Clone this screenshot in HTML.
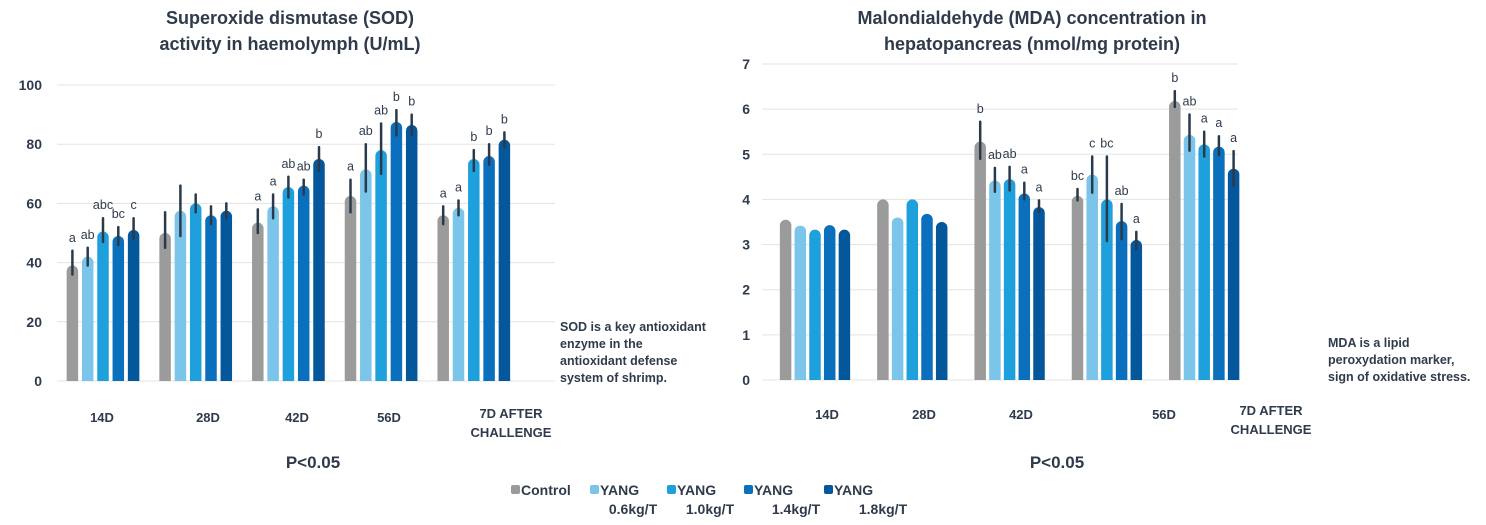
<!DOCTYPE html>
<html><head><meta charset="utf-8"><style>
body{margin:0;background:#fff;}
svg{display:block;font-family:"Liberation Sans",Arial,sans-serif;}
.t{font-weight:bold;fill:#2f3b4c;}
</style></head><body>
<svg id="c" width="1486" height="525">
<g class="t" font-size="18" text-anchor="middle">
<text x="290" y="24">Superoxide dismutase (SOD)</text>
<text x="290" y="50">activity in haemolymph (U/mL)</text>
<text x="1032" y="24">Malondialdehyde (MDA) concentration in</text>
<text x="1032" y="50">hepatopancreas (nmol/mg protein)</text>
</g>
<g class="t" font-size="17" text-anchor="middle">
<text x="313" y="468">P&lt;0.05</text>
<text x="1057" y="468">P&lt;0.05</text>
</g>
<g class="t" font-size="12.5">
<text x="560" y="331"><tspan x="560">SOD is a key antioxidant</tspan><tspan x="560" dy="17">enzyme in the</tspan><tspan x="560" dy="17">antioxidant defense</tspan><tspan x="560" dy="17">system of shrimp.</tspan></text>
<text x="1328" y="347"><tspan x="1328">MDA is a lipid</tspan><tspan x="1328" dy="17">peroxydation marker,</tspan><tspan x="1328" dy="17">sign of oxidative stress.</tspan></text>
</g>
<g id="sod"></g>
<g id="mda"></g>
<g id="legend"></g>
</svg>
<script>
const colors=["#9b9b9b","#7bc4ea","#1ea0dc","#0a70bd","#04579b"];
const seriesNames=["Control","YANG 0.6kg/T","YANG 1.0kg/T","YANG 1.4kg/T","YANG 1.8kg/T"];
const sodCats=["14D","28D","42D","56D","7D AFTER CHALLENGE"];
const sodTicks=[0,20,40,60,80,100];
const sodVals=[[39,42,50.5,49,51],[50,57.5,60,56,57.5],[53.5,59,65.5,66,75],[62.5,71.5,78,87.5,86.5],[56,58.5,75,76,81.5]];
const sodLo=[[36,39,47,46,48],[45,49,57,53,55],[50,55,62,63,71],[57,64,70,83,83],[53,56,71,73,79]];
const sodHi=[[44,45,55,52,55],[57,66,63,59,60],[58,63,69,68,79],[68,80,87,91.5,90],[59,61,78,80,84]];
const sodLetters=[["a","ab","abc","bc","c"],["","","","",""],["a","a","ab","ab","b"],["a","ab","ab","b","b"],["a","a","b","b","b"]];
const mdaCats=["14D","28D","42D","56D","7D AFTER CHALLENGE"];
const mdaTicks=[0,1,2,3,4,5,6,7];
const mdaVals=[[3.55,3.42,3.33,3.43,3.33],[4.0,3.6,4.0,3.68,3.5],[5.28,4.42,4.45,4.13,3.83],[4.08,4.55,4.0,3.52,3.1],[6.18,5.43,5.22,5.17,4.68]];
const mdaLo=[[null,null,null,null,null],[null,null,null,null,null],[4.9,4.17,4.2,4.0,3.73],[3.98,4.15,3.08,3.12,2.9],[6.05,5.08,4.95,4.98,4.3]];
const mdaHi=[[null,null,null,null,null],[null,null,null,null,null],[5.72,4.7,4.72,4.37,3.98],[4.23,4.95,4.95,3.9,3.28],[6.4,5.88,5.5,5.4,5.07]];
const mdaLetters=[["","","","",""],["","","","",""],["b","ab","ab","a","a"],["bc","c","bc","ab","a"],["b","ab","a","a","a"]];

const NS="http://www.w3.org/2000/svg";
function mk(p,tag,a,txt){const e=document.createElementNS(NS,tag);for(const k in a)e.setAttribute(k,a[k]);if(txt!==undefined)e.textContent=txt;p.appendChild(e);return e;}

function draw(g,o){
  const y=v=>o.y0-(v-o.ticks[0])/(o.ticks[o.ticks.length-1]-o.ticks[0])*(o.y0-o.y1);
  o.ticks.forEach(t=>{
    const l=mk(g,"line",{x1:o.px0,x2:o.px1,y1:y(t),y2:y(t),stroke:"#e3e3e3","stroke-width":1});
    
    
    const tx=mk(g,"text",{x:o.tickX,y:y(t)+5,"text-anchor":"end","font-size":14,"font-weight":"bold",fill:"#2f3b4c"},String(t));
    
    
  });
  o.cats.forEach((c,i)=>{
    const gc=o.g0+i*o.gs;
    o.vals[i].forEach((v,j)=>{
      const cx=gc+(j-2)*o.bs, w=o.bw, top=y(v), bot=y(o.ticks[0]);
      const b=mk(g,"path",{d:`M${cx-w/2},${bot} V${top+w/2} A${w/2},${w/2} 0 0 1 ${cx+w/2},${top+w/2} V${bot} Z`,fill:colors[j]});
      
      
      let labTop=top;
      if(o.lo[i][j]!=null){
        const e=mk(g,"line",{x1:cx,x2:cx,y1:y(o.lo[i][j]),y2:y(o.hi[i][j]),stroke:"#2b3a4a","stroke-width":2.5,"stroke-linecap":"round"});
        
        
        labTop=Math.min(top,y(o.hi[i][j]));
      }
      if(o.letters[i][j]){
        const t=mk(g,"text",{x:cx,y:labTop-9,"text-anchor":"middle","font-size":12.5,fill:"#2f3b4c"},o.letters[i][j]);
        
        
      }
    });
    const parts=c==="7D AFTER CHALLENGE"?["7D AFTER","CHALLENGE"]:[c];
    const lx=o.labX[i];
    parts.forEach((p,k)=>{
      const t=mk(g,"text",{x:lx,y:o.labY+(parts.length>1?-4:0)+k*19,"text-anchor":"middle","font-size":13,"font-weight":"bold",fill:"#2f3b4c"},p);
      
      
    });
  });
}
draw(document.getElementById('sod'),{cats:sodCats,ticks:sodTicks,vals:sodVals,lo:sodLo,hi:sodHi,letters:sodLetters,
  y0:381,y1:85,px0:57,px1:555,tickX:42,g0:103,gs:92.7,bs:15.3,bw:11.5,labX:[102,208,297,389,511],labY:422});
draw(document.getElementById('mda'),{cats:mdaCats,ticks:mdaTicks,vals:mdaVals,lo:mdaLo,hi:mdaHi,letters:mdaLetters,
  y0:380,y1:64,px0:762,px1:1238,tickX:750,g0:815,gs:97.3,bs:14.7,bw:11.5,labX:[827,924,1021,1164,1271],labY:419});

const lg=document.getElementById('legend');
const lgX=[511,590,667,744,824];
const lgL1=["Control","YANG","YANG","YANG","YANG"];
const lgL2=["","0.6kg/T","1.0kg/T","1.4kg/T","1.8kg/T"];
const lgL2X=[0,633,710,796,883];
seriesNames.forEach((n,i)=>{
  const r=mk(lg,"rect",{x:lgX[i],y:485,width:9,height:9,rx:2,fill:colors[i]});
  
  
  const t=mk(lg,"text",{x:lgX[i]+10,y:495,"font-size":14,"font-weight":"bold",fill:"#2f3b4c"},lgL1[i]);
  
  
  if(lgL2[i]){
    const t2=mk(lg,"text",{x:lgL2X[i],y:514,"text-anchor":"middle","font-size":14,"font-weight":"bold",fill:"#2f3b4c"},lgL2[i]);
    
    
  }
});
</script>
</body></html>
